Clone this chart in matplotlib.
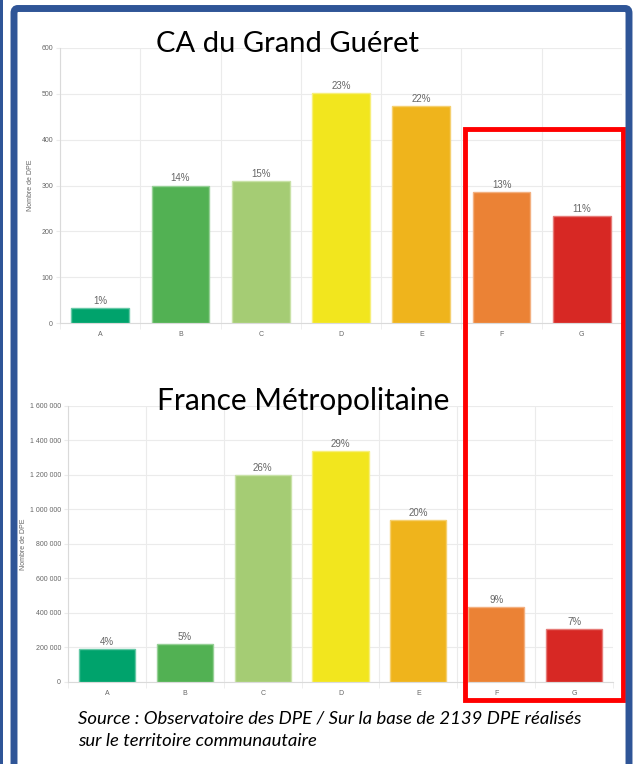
import matplotlib
matplotlib.use("Agg")
import matplotlib.pyplot as plt
from matplotlib.patches import Rectangle, FancyBboxPatch
from matplotlib.ticker import FuncFormatter, MultipleLocator

W, H = 633, 764

categories = ["A", "B", "C", "D", "E", "F", "G"]
gueret_values = [32, 300, 310, 502, 474, 286, 233]
gueret_pct = ["1%", "14%", "15%", "23%", "22%", "13%", "11%"]
france_values = [190000, 220000, 1198000, 1339000, 940000, 433000, 304000]
france_pct = ["4%", "5%", "26%", "29%", "20%", "9%", "7%"]
colors = ["#00A36C", "#52B153", "#A5CC74", "#F2E61E", "#EFB41C", "#EB8235", "#D72824"]
edge_colors = ["#66C8A6", "#96D096", "#C9E2A8", "#F7EF7A", "#F5D070", "#F3B080", "#E67B78"]

title_top = "CA du Grand Guéret"
title_bottom = "France Métropolitaine"
ylabel = "Nombre de DPE"
source_line1 = "Source : Observatoire des DPE / Sur la base de 2139 DPE réalisés"
source_line2 = "sur le territoire communautaire"

fig = plt.figure(figsize=(W / 100, H / 100), dpi=100)
fig.patch.set_facecolor("white")


def px_rect(x0, y0, x1, y1):
    return [x0 / W, 1 - y1 / H, (x1 - x0) / W, (y1 - y0) / H]


grid_c = "#EBEBEB"
tick_c = "#666666"
sans = ["Liberation Sans", "DejaVu Sans"]


def style_axes(ax, values, pct, ymax, step, fmt, label_x):
    x = list(range(len(categories)))
    ax.bar(x, values, width=0.72, color=colors, edgecolor=edge_colors, linewidth=1.0, zorder=3)
    for xi, v, p in zip(x, values, pct):
        ax.annotate(p, (xi, v), xytext=(0, 1.5), textcoords="offset points",
                    ha="center", va="bottom", fontsize=7, color="#666666",
                    family=sans, zorder=4)
    ax.set_xlim(-0.5, len(categories) - 0.5)
    ax.set_ylim(0, ymax)
    ax.yaxis.set_major_locator(MultipleLocator(step))
    ax.yaxis.set_major_formatter(FuncFormatter(fmt))
    ax.set_xticks(x)
    ax.set_xticklabels(categories)
    ax.set_xticks([i - 0.5 for i in range(len(categories) + 1)], minor=True)
    ax.grid(True, which="major", axis="y", color=grid_c, linewidth=0.8, zorder=0)
    ax.grid(True, which="minor", axis="x", color=grid_c, linewidth=0.8, zorder=0)
    ax.tick_params(axis="x", which="major", length=0, labelsize=5, labelcolor=tick_c, pad=6)
    ax.tick_params(axis="x", which="minor", length=4, color=grid_c)
    ax.tick_params(axis="y", length=3, color=grid_c, labelsize=5, labelcolor=tick_c, pad=2)
    for lab in ax.get_xticklabels() + ax.get_yticklabels():
        lab.set_family(sans)
    for s in ["top", "right"]:
        ax.spines[s].set_visible(False)
    for s in ["left", "bottom"]:
        ax.spines[s].set_color("#DADADA")
        ax.spines[s].set_linewidth(0.8)
    ax.set_ylabel(ylabel, fontsize=5, color=tick_c, family=sans)
    ax.yaxis.set_label_coords(label_x, 0.5)


ax1 = fig.add_axes(px_rect(60, 48, 622, 323))
style_axes(ax1, gueret_values, gueret_pct, 600, 100, lambda v, p: f"{int(v)}",
           (34 - 60) / 562)

ax2 = fig.add_axes(px_rect(68, 406, 613, 681.7))
style_axes(ax2, france_values, france_pct, 1600000, 200000,
           lambda v, p: f"{int(v):,}".replace(",", " "), (27 - 68) / 545)

fig.text(288 / W, 1 - 44 / H, title_top, ha="center", va="center", fontsize=21,
         family=["Lato", "DejaVu Sans"], color="black")
fig.text(303 / W, 1 - 401 / H, title_bottom, ha="center", va="center", fontsize=21.5,
         family=["Lato", "DejaVu Sans"], color="black")

fig.text(78 / W, 1 - 718 / H, source_line1, ha="left", va="center", fontsize=13.3,
         style="italic", family=["Lato", "DejaVu Sans"], color="black")
fig.text(78 / W, 1 - 741 / H, source_line2, ha="left", va="center", fontsize=13.3,
         style="italic", family=["Lato", "DejaVu Sans"], color="black")

# red highlight frame
fig.add_artist(Rectangle((465 / W, 1 - 700 / H), (623 - 465) / W, (700 - 129) / H,
                         transform=fig.transFigure, fill=False, edgecolor="#FF0000", linewidth=3.5))

# blue slide frame
blue = "#2F5597"
fig.add_artist(FancyBboxPatch((14 / W, -0.02), (629 - 14) / W, 1 - 8.5 / H + 0.02,
                              boxstyle="round,pad=0,rounding_size=0.006",
                              transform=fig.transFigure, fill=False, edgecolor=blue, linewidth=5))
fig.add_artist(Rectangle((0, 0), 3 / W, 1, transform=fig.transFigure, color=blue, linewidth=0))

fig.savefig("out.png", dpi=100)
